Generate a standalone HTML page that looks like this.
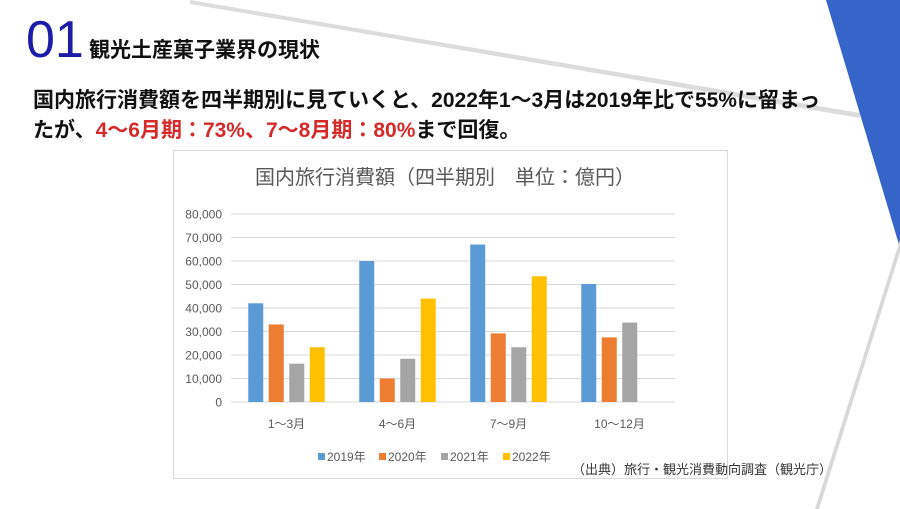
<!DOCTYPE html>
<html><head><meta charset="utf-8">
<style>
html,body{margin:0;padding:0;}
body{width:900px;height:509px;position:relative;overflow:hidden;background:#fff;font-family:"Liberation Sans","Noto Sans CJK JP",sans-serif;}
.abs{position:absolute;white-space:nowrap;}
</style></head><body>
<svg class="abs" style="left:0;top:0" width="900" height="509">
  <defs><linearGradient id="sh" x1="0" y1="0" x2="0" y2="1"><stop offset="0" stop-color="#ccc"/><stop offset="1" stop-color="#fff"/></linearGradient></defs>
  <polygon points="190,0 860,113 860,118 190,4" fill="#dcdcdc"/>
  <polygon points="826,0 900,0 900,248" fill="#3565c8"/>
  <polygon points="900,240 815,509 819,509 900,252" fill="#d8d8d8"/>
</svg>
<div class="abs" style="left:26px;top:14px;font-size:52px;color:#1c1ca8;font-weight:normal;line-height:52px;">01</div>
<div class="abs" style="left:89px;top:37px;font-size:21px;font-weight:bold;color:#111;line-height:28px;">観光土産菓子業界の現状</div>
<div class="abs" style="left:33px;top:87px;font-size:21px;font-weight:bold;color:#111;line-height:28px;">国内旅行消費額を四半期別に見ていくと、2022年1～3月は2019年比で55%に留まっ</div>
<div class="abs" style="left:33px;top:117px;font-size:21px;font-weight:bold;color:#111;line-height:28px;">たが、<span style="color:#d42a2a">4～6月期：73%、7～8月期：80%</span>まで回復。</div>

<svg id="chart" class="abs" style="left:0;top:0" width="900" height="509"></svg>
<div class="abs" style="left:572px;top:459px;font-size:13px;color:#333;">（出典）旅行・観光消費動向調査（観光庁）</div>

<script>
const categories = ["1～3月","4～6月","7～9月","10～12月"];
const seriesNames = ["2019年","2020年","2021年","2022年"];
const s2019 = [42000, 60000, 67000, 50200];
const s2020 = [33000, 10000, 29200, 27500];
const s2021 = [16300, 18400, 23300, 33800];
const s2022 = [23300, 44000, 53500, null];
const yTicks = [0,10000,20000,30000,40000,50000,60000,70000,80000];
const yTickLabels = ["0","10,000","20,000","30,000","40,000","50,000","60,000","70,000","80,000"];
const colors = ["#5b9bd5","#ed7d31","#a5a5a5","#ffc000"];

const svg = document.getElementById('chart');
const NS = "http://www.w3.org/2000/svg";
function mk(tag, attrs){const e=document.createElementNS(NS,tag);for(const k in attrs)e.setAttribute(k,attrs[k]);svg.appendChild(e);return e;}
const X0=231, X1=675, Y0=402, Y1=214, YMAX=80000;
const y = v => Y0 - (v/YMAX)*(Y0-Y1);
const groupW = (X1-X0)/categories.length;
const x = (ci, si) => X0 + ci*groupW + groupW/2 + (si-1.5)*20.5 - 7.5;

const box = mk('rect',{x:173.5,y:150.5,width:554,height:328,fill:'#fff',stroke:'#d9d9d9'});


const title = mk('text',{x:445,y:184,'text-anchor':'middle','font-size':20,fill:'#595959','font-family':'"Liberation Sans","Noto Sans CJK JP",sans-serif'});
title.textContent='国内旅行消費額（四半期別　単位：億円）';



yTicks.forEach((t,i)=>{
  const g = mk('line',{x1:X0,x2:X1,y1:y(t),y2:y(t),stroke:'#d9d9d9','stroke-width':1});
  
  
  const l = mk('text',{x:222,y:y(t)+4.5,'text-anchor':'end','font-size':12,fill:'#595959','font-family':'"Liberation Sans",sans-serif'});
  l.textContent=yTickLabels[i];
  
  
});

const all=[s2019,s2020,s2021,s2022];
all.forEach((ser,si)=>{
  ser.forEach((v,ci)=>{
    if(v==null)return;
    const r = mk('rect',{x:x(ci,si),y:y(v),width:15,height:Y0-y(v),fill:colors[si]});
    
    
  });
});

categories.forEach((c,ci)=>{
  const t = mk('text',{x:X0+ci*groupW+groupW/2,y:428,'text-anchor':'middle','font-size':12,fill:'#595959','font-family':'"Liberation Sans","Noto Sans CJK JP",sans-serif'});
  t.textContent=c;
  
  
});

const legX=[318,379,441,503];
seriesNames.forEach((n,si)=>{
  const sw = mk('rect',{x:legX[si],y:453,width:7,height:7,fill:colors[si]});
  
  
  const t = mk('text',{x:legX[si]+9,y:461,'font-size':12,fill:'#595959','font-family':'"Liberation Sans","Noto Sans CJK JP",sans-serif'});
  t.textContent=n;
  
  
});
</script>
</body></html>
